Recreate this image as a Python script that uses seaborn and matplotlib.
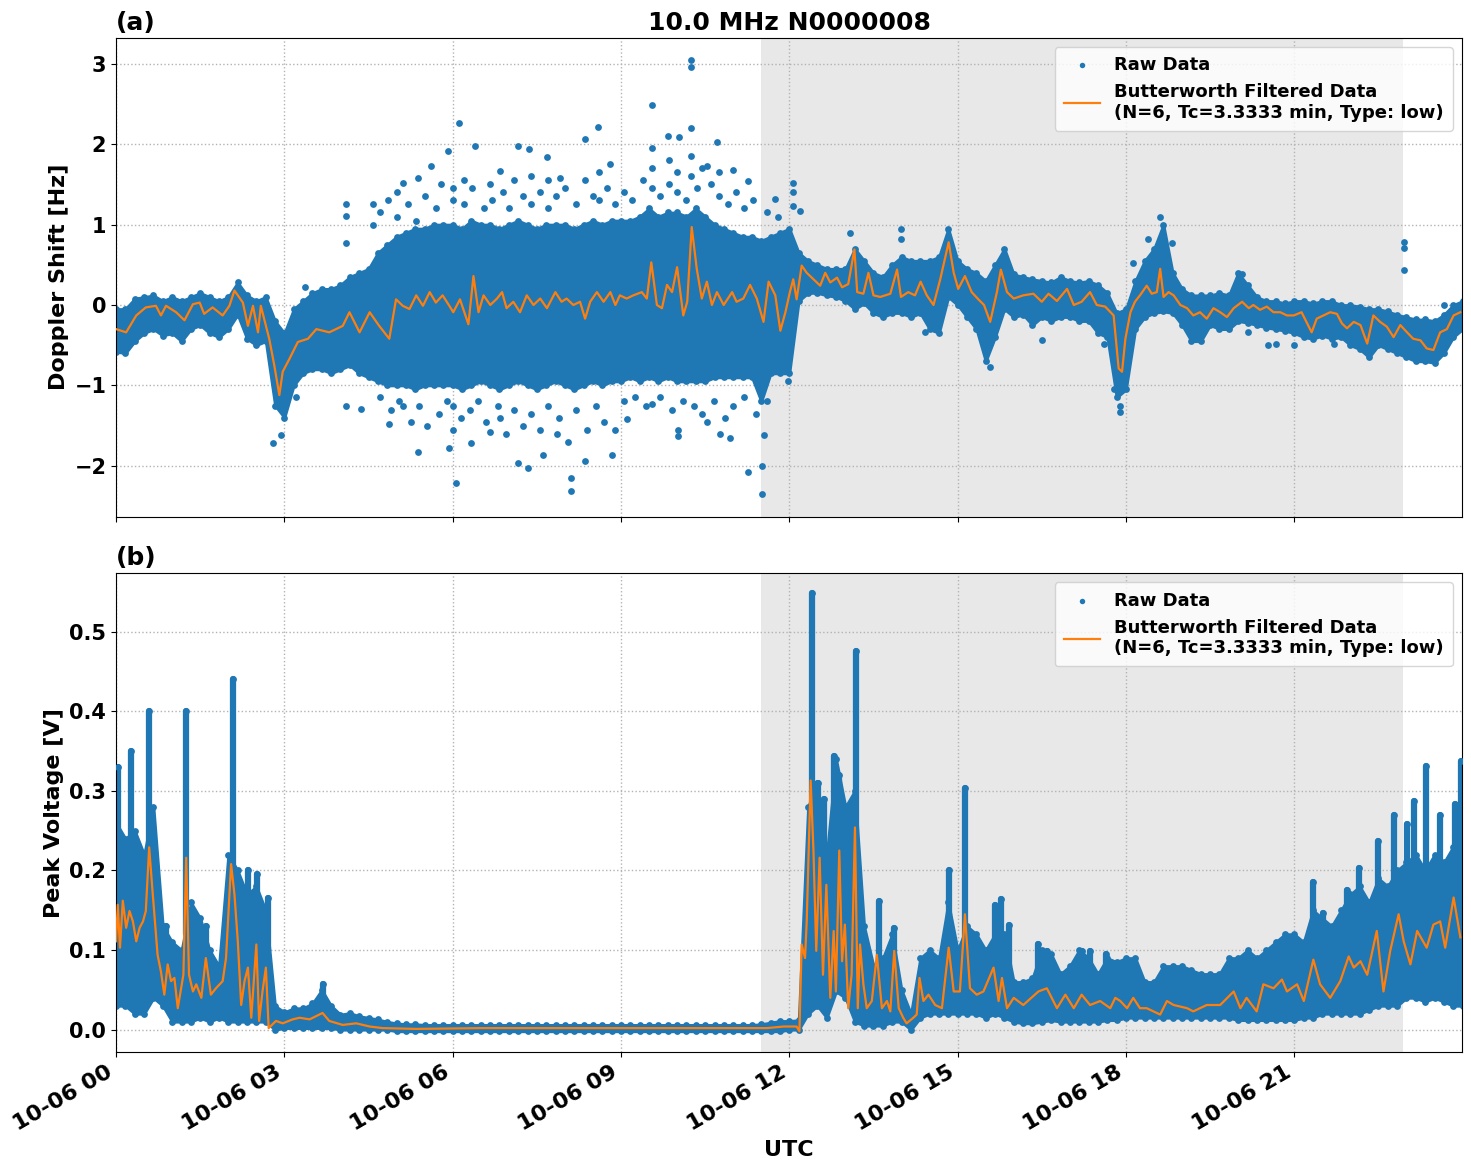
import numpy as np
import pandas as pd
import seaborn as sns
import matplotlib
matplotlib.use("Agg")
import matplotlib.pyplot as plt
import matplotlib.dates as mdates

# ---------------- data (hours UTC on 10-06) ----------------
# 10-minute grid of the dense raw-data band (one row per hour, last value = 24:00)
dop_hi = [
    -0.05, -0.05, 0.08, 0.10, 0.12, 0.05,
    0.10, 0.05, 0.10, 0.15, 0.10, 0.05,
    0.10, 0.28, 0.12, 0.05, 0.10, -0.20,
    -0.35, -0.05, 0.05, 0.15, 0.20, 0.20,
    0.25, 0.35, 0.40, 0.45, 0.65, 0.75,
    0.85, 0.90, 0.95, 0.95, 1.00, 1.00,
    1.00, 0.95, 1.05, 1.00, 1.00, 0.95,
    1.00, 1.05, 1.00, 0.95, 1.00, 1.00,
    1.00, 0.95, 1.00, 1.05, 1.00, 1.05,
    1.05, 1.05, 1.10, 1.20, 1.10, 1.15,
    1.15, 1.10, 1.20, 1.10, 1.00, 0.95,
    0.90, 0.85, 0.85, 0.80, 0.85, 0.90,
    0.95, 0.65, 0.55, 0.50, 0.45, 0.45,
    0.45, 0.70, 0.55, 0.40, 0.35, 0.50,
    0.60, 0.55, 0.55, 0.55, 0.60, 0.95,
    0.55, 0.45, 0.40, 0.30, 0.50, 0.70,
    0.38, 0.35, 0.32, 0.30, 0.28, 0.35,
    0.30, 0.28, 0.30, 0.25, 0.15, -0.10,
    -0.05, 0.30, 0.55, 0.70, 1.00, 0.40,
    0.20, 0.12, 0.12, 0.12, 0.15, 0.12,
    0.40, 0.25, 0.10, 0.05, 0.05, 0.02,
    0.05, 0.05, 0.02, 0.05, 0.05, 0.00,
    0.00, -0.02, -0.05, -0.05, -0.08, -0.12,
    -0.15, -0.18, -0.18, -0.20, -0.12, 0.00,
    0.05,
]
dop_lo = [
    -0.58, -0.60, -0.45, -0.35, -0.30, -0.38,
    -0.35, -0.45, -0.30, -0.25, -0.35, -0.40,
    -0.30, -0.12, -0.42, -0.50, -0.45, -1.25,
    -1.40, -1.00, -0.85, -0.80, -0.80, -0.85,
    -0.80, -0.75, -0.85, -0.90, -0.95, -1.00,
    -1.00, -1.00, -1.05, -1.00, -1.00, -1.00,
    -1.00, -1.05, -1.00, -0.95, -1.00, -1.05,
    -1.00, -0.95, -1.00, -1.05, -1.00, -0.95,
    -1.00, -1.05, -1.00, -0.95, -1.00, -0.95,
    -0.95, -0.90, -0.95, -0.90, -0.95, -0.90,
    -0.95, -0.95, -0.95, -0.95, -0.90, -0.90,
    -0.90, -0.90, -0.90, -1.20, -0.85, -0.85,
    -0.85, 0.05, 0.15, 0.15, 0.12, 0.10,
    0.05, -0.05, 0.02, -0.10, -0.15, -0.10,
    -0.10, -0.15, -0.10, -0.30, -0.35, 0.10,
    0.00, -0.15, -0.30, -0.70, -0.40, -0.05,
    -0.15, -0.12, -0.25, -0.15, -0.20, -0.15,
    -0.15, -0.20, -0.20, -0.35, -0.40, -1.15,
    -1.05, -0.30, -0.15, -0.10, -0.08, -0.10,
    -0.25, -0.45, -0.45, -0.25, -0.30, -0.30,
    -0.20, -0.22, -0.25, -0.28, -0.30, -0.32,
    -0.35, -0.40, -0.42, -0.38, -0.42, -0.40,
    -0.50, -0.55, -0.65, -0.50, -0.55, -0.60,
    -0.65, -0.70, -0.70, -0.72, -0.60, -0.40,
    -0.30,
]
pv_hi = [
    0.26, 0.24, 0.25, 0.22, 0.28, 0.13,
    0.11, 0.10, 0.16, 0.14, 0.10, 0.08,
    0.22, 0.20, 0.17, 0.18, 0.15, 0.03,
    0.022, 0.027, 0.027, 0.033, 0.050, 0.030,
    0.019, 0.021, 0.017, 0.015, 0.013, 0.010,
    0.008, 0.007, 0.007, 0.006, 0.006, 0.006,
    0.006, 0.006, 0.006, 0.006, 0.006, 0.006,
    0.006, 0.006, 0.006, 0.006, 0.006, 0.006,
    0.006, 0.006, 0.006, 0.006, 0.006, 0.006,
    0.006, 0.006, 0.006, 0.006, 0.006, 0.006,
    0.006, 0.006, 0.006, 0.006, 0.006, 0.006,
    0.006, 0.006, 0.006, 0.007, 0.009, 0.011,
    0.011, 0.012, 0.28, 0.31, 0.22, 0.34,
    0.28, 0.30, 0.13, 0.08, 0.09, 0.12,
    0.05, 0.02, 0.09, 0.10, 0.09, 0.16,
    0.10, 0.13, 0.12, 0.10, 0.12, 0.12,
    0.06, 0.06, 0.065, 0.10, 0.095, 0.07,
    0.08, 0.10, 0.09, 0.07, 0.09, 0.085,
    0.09, 0.09, 0.06, 0.06, 0.08, 0.08,
    0.08, 0.075, 0.07, 0.07, 0.07, 0.09,
    0.09, 0.10, 0.09, 0.10, 0.11, 0.12,
    0.12, 0.11, 0.15, 0.14, 0.13, 0.15,
    0.17, 0.18, 0.16, 0.19, 0.18, 0.20,
    0.21, 0.22, 0.20, 0.22, 0.21, 0.23,
    0.23,
]
pv_lo = [
    0.03, 0.03, 0.02, 0.02, 0.04, 0.03,
    0.01, 0.01, 0.01, 0.015, 0.01, 0.015,
    0.01, 0.01, 0.01, 0.01, 0.01, 0.0,
    0.002, 0.002, 0.002, 0.002, 0.002, 0.002,
    0.0, 0.0, 0.0, 0.0, 0.0, 0.0,
    -0.002, -0.002, -0.002, -0.002, -0.002, -0.002,
    -0.002, -0.002, -0.002, -0.002, -0.002, -0.002,
    -0.002, -0.002, -0.002, -0.002, -0.002, -0.002,
    -0.002, -0.002, -0.002, -0.002, -0.002, -0.002,
    -0.002, -0.002, -0.002, -0.002, -0.002, -0.002,
    -0.002, -0.002, -0.002, -0.002, -0.002, -0.002,
    -0.002, -0.002, -0.002, -0.002, -0.002, -0.002,
    0.0, 0.0, 0.02, 0.03, 0.015, 0.048,
    0.04, 0.01, 0.005, 0.005, 0.005, 0.01,
    0.01, 0.0, 0.015, 0.02, 0.02, 0.02,
    0.02, 0.02, 0.02, 0.015, 0.02, 0.015,
    0.01, 0.008, 0.008, 0.01, 0.012, 0.01,
    0.01, 0.01, 0.01, 0.01, 0.012, 0.012,
    0.015, 0.015, 0.015, 0.015, 0.015, 0.015,
    0.015, 0.015, 0.015, 0.015, 0.015, 0.015,
    0.012, 0.012, 0.012, 0.012, 0.012, 0.012,
    0.012, 0.015, 0.015, 0.02, 0.02, 0.02,
    0.02, 0.02, 0.025, 0.03, 0.03, 0.03,
    0.04, 0.04, 0.035, 0.04, 0.035, 0.03,
    0.03,
]

# isolated raw points of the Doppler panel (hour, Hz)
dop_scatter = [
    (2.79, -1.71), (2.94, -1.62), (3.21, -1.14), (3.36, 0.22),
    (4.10, 1.25), (4.10, 1.11), (4.10, 0.77), (4.58, 1.26), (4.58, 1.00),
    (4.10, -1.25), (4.37, -1.29), (4.87, -1.48), (5.11, -1.25), (5.39, -1.83), (5.94, -1.78),
    (5.11, 1.52), (5.38, 1.58), (5.62, 1.73), (5.92, 1.92),
    (4.70, 1.15), (4.85, 1.30), (5.00, 1.10), (5.00, 1.40), (5.20, 1.25), (5.35, 1.05),
    (5.50, 1.35), (5.70, 1.20), (5.80, 1.50),
    (4.70, -1.15), (4.90, -1.30), (5.05, -1.20), (5.25, -1.45), (5.40, -1.25),
    (5.55, -1.50), (5.75, -1.35), (5.90, -1.20),
    (6.12, 2.26), (6.40, 1.98), (7.17, 1.98), (7.36, 1.94), (7.68, 1.84), (8.35, 2.06),
    (8.59, 2.21), (9.56, 2.49), (9.83, 2.10), (10.04, 2.09), (10.25, 3.04), (10.25, 2.96),
    (10.25, 2.20), (10.71, 2.03), (11.00, 1.68), (11.27, 1.54), (11.75, 1.32),
    (6.85, 1.66), (6.67, 1.50), (7.91, 1.58), (8.81, 1.75), (10.53, 1.73),
    (6.00, 1.45), (6.00, 1.30), (6.20, 1.55), (6.20, 1.25), (6.35, 1.45), (6.55, 1.20),
    (6.70, 1.30), (6.90, 1.40), (7.00, 1.20), (7.10, 1.55), (7.25, 1.35), (7.40, 1.60),
    (7.40, 1.25), (7.55, 1.40), (7.70, 1.55), (7.70, 1.20), (7.85, 1.35), (8.00, 1.45),
    (8.20, 1.25), (8.35, 1.55), (8.50, 1.35), (8.60, 1.65), (8.60, 1.30), (8.75, 1.45),
    (8.90, 1.25), (9.05, 1.40), (9.20, 1.30), (9.40, 1.55), (9.55, 1.95), (9.55, 1.70),
    (9.55, 1.45), (9.70, 1.35), (9.85, 1.80), (9.85, 1.50), (10.00, 1.65), (10.00, 1.40),
    (10.15, 1.30), (10.25, 1.85), (10.25, 1.60), (10.35, 1.45), (10.45, 1.70), (10.60, 1.50),
    (10.75, 1.35), (10.75, 1.65), (10.90, 1.25), (11.05, 1.40), (11.20, 1.20), (11.35, 1.30),
    (11.60, 1.15), (11.80, 1.10),
    (6.06, -2.21), (6.32, -1.72), (6.67, -1.58), (7.17, -1.96), (7.35, -2.03), (7.61, -1.87),
    (8.10, -2.15), (8.10, -2.31), (8.36, -1.94), (8.84, -1.86), (9.10, -1.42), (9.56, -1.23),
    (10.02, -1.63), (10.02, -1.56), (10.77, -1.60), (10.95, -1.66), (10.53, -1.45),
    (11.27, -2.08), (11.52, -2.00), (11.52, -2.35), (11.54, -1.62), (6.85, -1.41), (7.86, -1.60),
    (6.00, -1.25), (6.00, -1.55), (6.15, -1.40), (6.30, -1.30), (6.45, -1.20), (6.60, -1.45),
    (6.80, -1.25), (6.95, -1.60), (7.10, -1.30), (7.25, -1.50), (7.40, -1.35), (7.55, -1.55),
    (7.70, -1.25), (7.90, -1.40), (8.05, -1.70), (8.20, -1.30), (8.40, -1.55), (8.55, -1.25),
    (8.70, -1.45), (8.90, -1.55), (9.05, -1.20), (9.25, -1.15), (9.45, -1.25), (9.70, -1.15),
    (9.90, -1.30), (10.10, -1.20), (10.30, -1.25), (10.45, -1.35), (10.65, -1.20),
    (10.85, -1.40), (11.00, -1.25), (11.20, -1.15), (11.40, -1.35), (11.60, -1.20),
    (12.07, 1.52), (12.07, 1.41), (12.07, 1.23), (12.19, 1.17), (13.08, 0.90), (13.99, 0.94),
    (13.99, 0.82), (11.98, -0.94), (14.42, -0.33), (14.60, -0.30), (15.58, -0.77),
    (16.50, -0.44), (17.60, -0.49), (17.78, -1.04),
    (18.61, 1.10), (18.40, 0.82), (18.82, 0.77), (18.13, 0.52), (20.07, 0.38),
    (22.96, 0.78), (22.96, 0.71), (22.96, 0.43), (20.54, -0.50), (20.68, -0.48),
    (20.99, -0.50), (21.71, -0.48), (20.18, -0.34), (23.66, 0.00), (17.90, -1.33), (17.90, -1.25),
]

# tall columns of raw points in the voltage panel (hour, top V, foot V)
pv_spikes = [
    (0.03, 0.33, 0.20), (0.27, 0.35, 0.20), (0.59, 0.40, 0.20), (0.89, 0.13, 0.08),
    (1.25, 0.40, 0.12), (1.60, 0.13, 0.08), (2.08, 0.44, 0.20), (2.35, 0.20, 0.10),
    (2.51, 0.195, 0.10), (2.70, 0.165, 0.10), (3.68, 0.057, 0.02),
    (12.40, 0.548, 0.25), (12.52, 0.31, 0.20), (12.61, 0.29, 0.20), (12.80, 0.344, 0.20),
    (12.89, 0.32, 0.20), (12.98, 0.28, 0.20), (13.18, 0.476, 0.20), (13.59, 0.161, 0.07),
    (13.87, 0.128, 0.07), (14.84, 0.20, 0.10), (15.13, 0.304, 0.10), (15.66, 0.157, 0.10),
    (15.78, 0.164, 0.10), (15.92, 0.132, 0.08), (16.44, 0.107, 0.06), (16.59, 0.099, 0.06),
    (17.21, 0.099, 0.07), (17.36, 0.099, 0.07), (17.65, 0.095, 0.07),
    (21.34, 0.186, 0.12), (21.52, 0.147, 0.12), (21.94, 0.176, 0.14), (22.16, 0.203, 0.16),
    (22.50, 0.237, 0.17), (22.78, 0.27, 0.18), (23.01, 0.258, 0.20), (23.13, 0.287, 0.20),
    (23.35, 0.331, 0.20), (23.60, 0.27, 0.20), (23.86, 0.283, 0.20), (23.97, 0.338, 0.20),
]

# Butterworth filtered curves (hour, value)
dop_filt = [
    (0.00, -0.30), (0.18, -0.34), (0.36, -0.13), (0.53, -0.03), (0.71, -0.01), (0.80, -0.13),
    (0.89, -0.01), (1.07, -0.09), (1.22, -0.19), (1.37, 0.01), (1.49, 0.03), (1.57, -0.11),
    (1.72, -0.03), (1.90, -0.13), (2.02, -0.01), (2.11, 0.18), (2.26, 0.03), (2.35, -0.26),
    (2.44, -0.01), (2.53, -0.34), (2.58, -0.01), (2.73, -0.42), (2.82, -0.75), (2.91, -1.12),
    (2.97, -0.83), (3.09, -0.67), (3.24, -0.46), (3.42, -0.42), (3.57, -0.30), (3.80, -0.34),
    (4.04, -0.26), (4.16, -0.09), (4.34, -0.34), (4.52, -0.09), (4.69, -0.26), (4.87, -0.42),
    (4.99, 0.07), (5.11, -0.01), (5.23, -0.05), (5.35, 0.12), (5.47, -0.01), (5.59, 0.16),
    (5.70, 0.03), (5.82, 0.12), (5.94, -0.01), (6.01, -0.09), (6.13, 0.07), (6.28, -0.24),
    (6.37, 0.36), (6.46, -0.09), (6.55, 0.12), (6.67, 0.00), (6.79, 0.08), (6.88, 0.16),
    (6.96, -0.04), (7.08, 0.04), (7.20, -0.09), (7.32, 0.12), (7.44, 0.00), (7.56, 0.08),
    (7.68, -0.04), (7.83, 0.16), (7.94, 0.04), (8.03, 0.08), (8.15, 0.00), (8.27, 0.04),
    (8.36, -0.17), (8.45, 0.04), (8.57, 0.16), (8.69, 0.04), (8.81, 0.16), (8.90, 0.00),
    (8.98, 0.12), (9.10, 0.08), (9.22, 0.12), (9.37, 0.16), (9.46, 0.08), (9.54, 0.53),
    (9.64, 0.00), (9.73, -0.04), (9.82, 0.25), (9.91, 0.16), (10.00, 0.47), (10.11, -0.13),
    (10.18, 0.04), (10.26, 0.97), (10.35, 0.45), (10.44, 0.08), (10.53, 0.29), (10.62, 0.00),
    (10.71, 0.16), (10.83, 0.00), (10.98, 0.16), (11.06, 0.04), (11.18, 0.08), (11.30, 0.25),
    (11.42, 0.08), (11.54, -0.21), (11.63, 0.29), (11.75, 0.12), (11.84, -0.32), (11.93, -0.09),
    (12.01, 0.16), (12.07, 0.32), (12.13, 0.07), (12.22, 0.49), (12.31, 0.40), (12.43, 0.32),
    (12.55, 0.24), (12.64, 0.40), (12.73, 0.28), (12.85, 0.34), (12.94, 0.22), (13.05, 0.26),
    (13.16, 0.69), (13.21, 0.16), (13.32, 0.14), (13.41, 0.40), (13.50, 0.12), (13.62, 0.10),
    (13.80, 0.14), (13.92, 0.44), (13.99, 0.10), (14.12, 0.16), (14.24, 0.12), (14.34, 0.29),
    (14.45, 0.12), (14.57, 0.00), (14.69, 0.32), (14.84, 0.78), (14.93, 0.40), (15.01, 0.20),
    (15.13, 0.36), (15.25, 0.16), (15.37, 0.07), (15.47, 0.00), (15.58, -0.21), (15.70, 0.16),
    (15.77, 0.44), (15.88, 0.16), (16.00, 0.08), (16.17, 0.12), (16.35, 0.14), (16.50, 0.04),
    (16.62, 0.14), (16.77, 0.05), (16.95, 0.20), (17.07, 0.00), (17.21, 0.04), (17.36, 0.16),
    (17.48, 0.00), (17.63, -0.02), (17.78, -0.13), (17.87, -0.79), (17.93, -0.83), (17.99, -0.42),
    (18.08, -0.09), (18.16, 0.04), (18.25, 0.12), (18.37, 0.24), (18.46, 0.14), (18.55, 0.16),
    (18.61, 0.45), (18.67, 0.10), (18.76, 0.16), (18.85, 0.12), (18.97, 0.00), (19.09, -0.04),
    (19.20, -0.13), (19.32, -0.09), (19.44, -0.17), (19.56, -0.04), (19.68, -0.09), (19.80, -0.15),
    (19.92, -0.04), (20.07, 0.04), (20.19, -0.04), (20.27, 0.00), (20.39, -0.06), (20.51, -0.02),
    (20.63, -0.09), (20.75, -0.09), (20.87, -0.13), (20.99, -0.13), (21.13, -0.09), (21.31, -0.34),
    (21.40, -0.17), (21.52, -0.13), (21.64, -0.09), (21.76, -0.11), (21.85, -0.23), (21.94, -0.29),
    (22.06, -0.21), (22.18, -0.25), (22.30, -0.48), (22.41, -0.13), (22.53, -0.21), (22.65, -0.27),
    (22.77, -0.40), (22.89, -0.25), (23.01, -0.34), (23.12, -0.42), (23.25, -0.44), (23.36, -0.54),
    (23.48, -0.56), (23.60, -0.34), (23.72, -0.30), (23.84, -0.13), (23.96, -0.09),
]
pv_filt = [
    (0.00, 0.111), (0.03, 0.157), (0.07, 0.103), (0.12, 0.162), (0.18, 0.128), (0.24, 0.149),
    (0.30, 0.136), (0.36, 0.111), (0.42, 0.128), (0.48, 0.136), (0.53, 0.149), (0.59, 0.229),
    (0.65, 0.174), (0.74, 0.094), (0.80, 0.073), (0.86, 0.044), (0.92, 0.082), (0.98, 0.061),
    (1.04, 0.065), (1.10, 0.027), (1.16, 0.052), (1.20, 0.069), (1.25, 0.216), (1.30, 0.069),
    (1.37, 0.048), (1.43, 0.057), (1.52, 0.040), (1.60, 0.090), (1.69, 0.044), (1.78, 0.052),
    (1.90, 0.061), (1.96, 0.090), (2.05, 0.208), (2.11, 0.170), (2.17, 0.111), (2.23, 0.031),
    (2.29, 0.061), (2.35, 0.078), (2.41, 0.015), (2.50, 0.107), (2.55, 0.011), (2.61, 0.048),
    (2.67, 0.078), (2.72, 0.002), (2.85, 0.011), (2.97, 0.008), (3.15, 0.013), (3.27, 0.015),
    (3.45, 0.013), (3.68, 0.021), (3.80, 0.011), (4.04, 0.006), (4.28, 0.008), (4.52, 0.004),
    (4.75, 0.002), (5.35, 0.001), (6.50, 0.002), (8.50, 0.002), (10.50, 0.002), (11.60, 0.002),
    (11.90, 0.004), (12.13, 0.004), (12.18, -0.002), (12.22, 0.107), (12.28, 0.090), (12.31, 0.136),
    (12.38, 0.313), (12.43, 0.225), (12.48, 0.099), (12.54, 0.216), (12.60, 0.069), (12.66, 0.182),
    (12.73, 0.040), (12.79, 0.124), (12.83, 0.048), (12.89, 0.225), (12.94, 0.086), (12.99, 0.132),
    (13.05, 0.027), (13.11, 0.069), (13.17, 0.254), (13.22, 0.027), (13.26, 0.107), (13.32, 0.057),
    (13.38, 0.027), (13.47, 0.036), (13.56, 0.094), (13.65, 0.027), (13.74, 0.036), (13.80, 0.023),
    (13.87, 0.099), (13.95, 0.027), (14.03, 0.015), (14.09, 0.008), (14.21, 0.015), (14.27, 0.019),
    (14.32, 0.065), (14.39, 0.036), (14.48, 0.044), (14.60, 0.031), (14.72, 0.027), (14.84, 0.103),
    (14.93, 0.048), (15.04, 0.048), (15.13, 0.145), (15.22, 0.052), (15.34, 0.044), (15.46, 0.048),
    (15.64, 0.078), (15.73, 0.036), (15.79, 0.065), (15.88, 0.027), (16.00, 0.040), (16.17, 0.031),
    (16.44, 0.048), (16.59, 0.052), (16.77, 0.027), (16.92, 0.044), (17.07, 0.027), (17.21, 0.044),
    (17.36, 0.031), (17.54, 0.036), (17.72, 0.027), (17.81, 0.040), (17.90, 0.036), (18.02, 0.027),
    (18.13, 0.040), (18.25, 0.027), (18.37, 0.027), (18.49, 0.023), (18.61, 0.019), (18.73, 0.036),
    (18.85, 0.031), (19.09, 0.027), (19.20, 0.023), (19.44, 0.031), (19.68, 0.031), (19.92, 0.048),
    (20.04, 0.027), (20.15, 0.040), (20.33, 0.023), (20.45, 0.057), (20.63, 0.052), (20.78, 0.063),
    (20.87, 0.048), (21.05, 0.057), (21.17, 0.036), (21.34, 0.088), (21.46, 0.057), (21.64, 0.040),
    (21.82, 0.061), (21.97, 0.092), (22.06, 0.078), (22.18, 0.086), (22.30, 0.069), (22.47, 0.124),
    (22.59, 0.048), (22.71, 0.099), (22.86, 0.145), (22.95, 0.111), (23.07, 0.082), (23.19, 0.124),
    (23.36, 0.103), (23.48, 0.132), (23.60, 0.136), (23.69, 0.103), (23.84, 0.166), (23.96, 0.116),
]

night_start, night_end = 11.50, 22.94
x_end = 23.99
legend_filt = "Butterworth Filtered Data\n(N=6, Tc=3.3333 min, Type: low)"

# ---------------- plotting ----------------
DAY = pd.Timestamp("2024-10-06")


def to_time(hours):
    return DAY + pd.to_timedelta(np.asarray(hours, dtype=float), unit="h")


grid_h = np.arange(len(dop_hi)) / 6.0
BLUE, ORANGE = "#1f77b4", "#ff7f0e"

plt.rcParams["font.weight"] = "bold"
plt.rcParams["axes.labelweight"] = "bold"
plt.rcParams["axes.titleweight"] = "bold"

fig, (ax1, ax2) = plt.subplots(2, 1, sharex=True, figsize=(14.71, 11.72), dpi=100)
fig.subplots_adjust(left=0.0789, right=0.9939, top=0.9676, bottom=0.1024, hspace=0.119)


def draw_panel(ax, lo, hi, pts, filt, spikes=None):
    t_grid = to_time(grid_h)
    ax.fill_between(t_grid, lo, hi, color=BLUE, edgecolor=BLUE, lw=2, zorder=2)
    # dots along the band edges give it the ragged look of dense raw points
    ax.scatter(t_grid, hi, color=BLUE, s=24, linewidths=0, zorder=2)
    ax.scatter(t_grid, lo, color=BLUE, s=24, linewidths=0, zorder=2)
    px, py = zip(*pts)
    if spikes:
        st, stop, sbase = zip(*spikes)
        ax.vlines(to_time(st), sbase, stop, color=BLUE, lw=4.5, capstyle="round", zorder=2)
    sns.scatterplot(x=to_time(px), y=list(py), ax=ax, color=BLUE, s=24, linewidth=0,
                    label="Raw Data", zorder=3)
    fx, fy = zip(*filt)
    sns.lineplot(x=to_time(fx), y=list(fy), ax=ax, color=ORANGE, lw=1.6, sort=False,
                 estimator=None, label=legend_filt, zorder=4)
    ax.axvspan(to_time([night_start])[0], to_time([night_end])[0], color="#e8e8e8", zorder=0, lw=0)
    ax.grid(True, linestyle=":", color="0.7", linewidth=1)
    ax.legend(loc="upper right", fontsize=13, markerscale=0.8, borderpad=0.5)
    ax.tick_params(labelsize=15)


draw_panel(ax1, dop_lo, dop_hi, dop_scatter, dop_filt)
pv_pts = [(t, top) for t, top, _ in pv_spikes]
draw_panel(ax2, pv_lo, pv_hi, pv_pts, pv_filt, spikes=pv_spikes)

ax1.set_ylim(-2.63, 3.32)
ax1.set_yticks([-2, -1, 0, 1, 2, 3])
ax2.set_ylim(-0.028, 0.573)
ax2.set_yticks([0.0, 0.1, 0.2, 0.3, 0.4, 0.5])
ax2.yaxis.set_major_formatter(matplotlib.ticker.FormatStrFormatter("%.1f"))

ax1.set_ylabel("Doppler Shift [Hz]", fontsize=16)
ax2.set_ylabel("Peak Voltage [V]", fontsize=16)
ax2.set_xlabel("UTC", fontsize=16)
ax1.set_xlabel("")

ax1.set_title("10.0 MHz N0000008", fontsize=18)
ax1.set_title("(a)", loc="left", fontsize=18)
ax2.set_title("(b)", loc="left", fontsize=18)

ax2.set_xlim(to_time([0])[0], to_time([x_end])[0])
ax2.xaxis.set_major_locator(mdates.HourLocator(byhour=range(0, 24, 3)))
ax2.xaxis.set_major_formatter(mdates.DateFormatter("%m-%d %H"))
ax1.tick_params(labelbottom=False)
plt.setp(ax2.get_xticklabels(), rotation=30, ha="right", fontsize=16)

fig.savefig("out.png", dpi=100)
